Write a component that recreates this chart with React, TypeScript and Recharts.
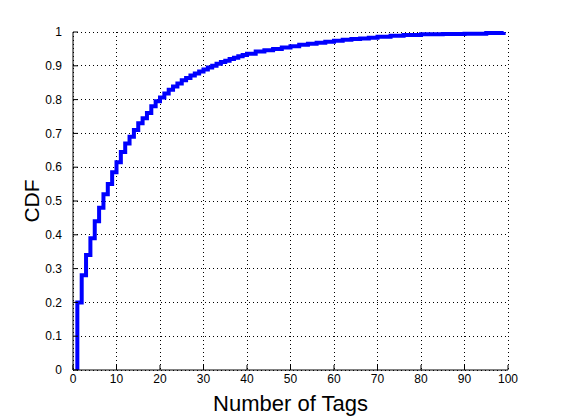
import React from "react";
import {
  LineChart,
  Line,
  XAxis,
  YAxis,
  CartesianGrid,
} from "recharts";

// number of tags per item (x) and the empirical CDF at that count
const TAGS = [
  1, 1, 2, 3, 4, 5, 6, 7, 8, 9, 10, 11, 12, 13, 14, 15, 16, 17, 18, 19, 20,
  21, 22, 23, 24, 25, 26, 27, 28, 29, 30, 31, 32, 33, 34, 35, 36, 37, 38, 39,
  40, 42, 44, 46, 48, 50, 52, 54, 56, 58, 60, 62, 64, 66, 68, 70, 73, 76, 80,
  85, 90, 95, 99,
];
const CDF = [
  0, 0.2, 0.28, 0.34, 0.39, 0.44, 0.48, 0.52, 0.55, 0.585, 0.615, 0.645, 0.67,
  0.69, 0.71, 0.73, 0.745, 0.76, 0.78, 0.795, 0.806, 0.818, 0.829, 0.839,
  0.848, 0.857, 0.864, 0.871, 0.877, 0.883, 0.889, 0.895, 0.9, 0.906, 0.911,
  0.915, 0.92, 0.924, 0.928, 0.932, 0.936, 0.942, 0.946, 0.95, 0.954, 0.958,
  0.962, 0.965, 0.968, 0.971, 0.974, 0.977, 0.979, 0.981, 0.983, 0.986, 0.989,
  0.991, 0.993, 0.994, 0.995, 0.997, 1,
];

const X_TICKS = [0, 10, 20, 30, 40, 50, 60, 70, 80, 90, 100];
const Y_TICKS = [0, 0.1, 0.2, 0.3, 0.4, 0.5, 0.6, 0.7, 0.8, 0.9, 1];

const data = TAGS.map((x, i) => ({ x, cdf: CDF[i] }));

const FONT = "'Liberation Sans', Arial, Helvetica, sans-serif";
const tickStyle = { fontSize: 12, fill: "#000", fontFamily: FONT };
const fmtY = (v: number) => (v === 0 || v === 1 ? String(v) : v.toFixed(1));
const blank = () => "";

export default function App() {
  return (
    <div style={{ position: "absolute", left: 0, top: 0, background: "#fff" }}>
      <LineChart
        width={561}
        height={420}
        data={data}
        margin={{ top: 32, right: 53, bottom: 0, left: 30 }}
      >
        <CartesianGrid
          stroke="#000"
          strokeDasharray="1 3"
          strokeWidth={1}
          shapeRendering="crispEdges"
        />
        <XAxis
          dataKey="x"
          type="number"
          domain={[0, 100]}
          ticks={X_TICKS}
          allowDataOverflow
          height={50}
          stroke="#000"
          tickSize={-5}
          tickMargin={9}
          tick={tickStyle}
          label={{
            content: ({ viewBox }: any) => (
              <text
                x={viewBox.x + viewBox.width / 2}
                y={viewBox.y + 41}
                textAnchor="middle"
                fontSize={22}
                fontFamily={FONT}
                fill="#000"
              >
                Number of Tags
              </text>
            ),
          }}
        />
        <XAxis
          xAxisId="top"
          dataKey="x"
          type="number"
          orientation="top"
          domain={[0, 100]}
          ticks={X_TICKS}
          height={0}
          stroke="#000"
          tickSize={-5}
          tickFormatter={blank}
        />
        <YAxis
          type="number"
          domain={[0, 1]}
          ticks={Y_TICKS}
          width={43}
          stroke="#000"
          tickSize={-5}
          tickMargin={16}
          tick={tickStyle}
          tickFormatter={fmtY}
          label={{
            content: ({ viewBox }: any) => {
              const cx = viewBox.x + 1;
              const cy = viewBox.y + viewBox.height / 2;
              return (
                <text
                  x={cx}
                  y={cy}
                  transform={`rotate(-90, ${cx}, ${cy})`}
                  textAnchor="middle"
                  dominantBaseline="central"
                  fontSize={21}
                  fontFamily={FONT}
                  fill="#000"
                >
                  CDF
                </text>
              );
            },
          }}
        />
        <YAxis
          yAxisId="right"
          orientation="right"
          type="number"
          domain={[0, 1]}
          ticks={Y_TICKS}
          width={0}
          stroke="#000"
          tickSize={-5}
          tickFormatter={blank}
        />
        <Line
          dataKey="cdf"
          type="stepAfter"
          stroke="#0000ff"
          strokeWidth={4}
          dot={false}
          activeDot={false}
          isAnimationActive={false}
        />
      </LineChart>
    </div>
  );
}
